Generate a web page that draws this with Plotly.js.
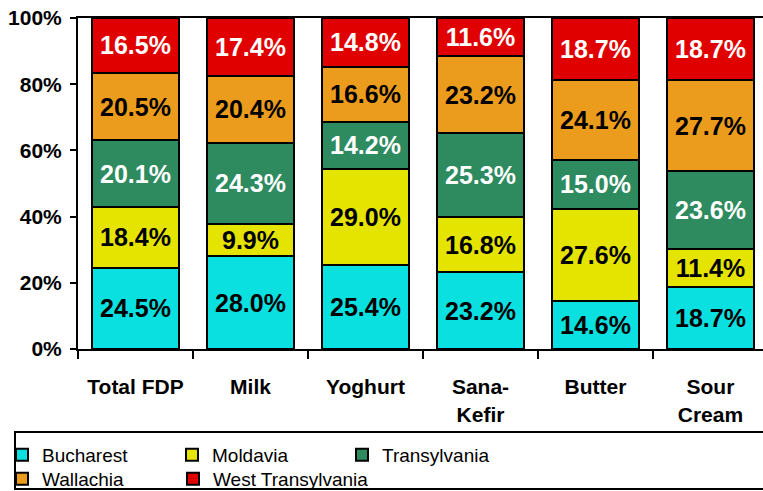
<!DOCTYPE html>
<html>
<head>
<meta charset="utf-8">
<script src="https://cdn.plot.ly/plotly-3.0.1.min.js"></script>
<style>html,body{margin:0;padding:0;background:#fff;} #chart{width:763px;height:491px;}</style>
</head>
<body>
<div id="chart"></div>
<script>
// ---- data ----
const categories = ["Total FDP", "Milk", "Yoghurt", "Sana-<br>Kefir", "Butter", "Sour<br>Cream"];
const seriesNames = ["Bucharest", "Moldavia", "Transylvania", "Wallachia", "West Transylvania"];
const bucharest       = [24.5, 28.0, 25.4, 23.2, 14.6, 18.7];
const moldavia        = [18.4,  9.9, 29.0, 16.8, 27.6, 11.4];
const transylvania    = [20.1, 24.3, 14.2, 25.3, 15.0, 23.6];
const wallachia       = [20.5, 20.4, 16.6, 23.2, 24.1, 27.7];
const westTransylvania= [16.5, 17.4, 14.8, 11.6, 18.7, 18.7];
const yTickVals = [0, 20, 40, 60, 80, 100];
const yTickText = ["0%", "20%", "40%", "60%", "80%", "100%"];

// ---- styles ----
const seriesValues = [bucharest, moldavia, transylvania, wallachia, westTransylvania];
const colors = ["#0BE0E0", "#E4E400", "#2E8A5F", "#EC9C1C", "#E00000"];
const textColors = ["#000", "#000", "#fff", "#000", "#fff"];
const legendIds = ["legend", "legend", "legend", "legend2", "legend3"];
const sans = "Liberation Sans, Arial, sans-serif";
const legFont = "Liberation Sans, Arial, sans-serif";

const traces = seriesNames.map((name, i) => ({
  type: "bar",
  name: name,
  x: categories,
  y: seriesValues[i],
  text: seriesValues[i].map(v => v.toFixed(1) + "%"),
  textposition: "inside",
  insidetextanchor: "middle",
  textangle: 0,
  constraintext: "none",
  textfont: {family: sans, size: 25, color: textColors[i], weight: "bold"},
  marker: {color: colors[i], line: {color: "#000", width: 2}},
  legend: legendIds[i],
  hoverinfo: "skip"
}));

function px2x(px) { return (px - 78) / 685; }
function px2y(py) { return (349 - py) / 331; }

function leg(xpx, ypx, ew) {
  return {
    orientation: "h", x: px2x(xpx), xanchor: "left",
    y: px2y(ypx), yanchor: "middle",
    entrywidth: ew, entrywidthmode: "pixels",
    font: {family: legFont, size: 19, color: "#000"},
    bgcolor: "rgba(0,0,0,0)", borderwidth: 0, traceorder: "normal",
    tracegroupgap: 0, itemclick: false, itemdoubleclick: false
  };
}

const layout = {
  width: 763, height: 491,
  margin: {l: 78, r: 0, t: 18, b: 142, autoexpand: false},
  paper_bgcolor: "#fff", plot_bgcolor: "#fff",
  barmode: "stack",
  barnorm: "percent",
  bargap: 0.25,
  font: {family: sans, color: "#000"},
  xaxis: {
    type: "category",
    range: [-0.5, 5.457],
    showline: true, linecolor: "#000", linewidth: 2, mirror: true,
    ticks: "outside", tickson: "boundaries", ticklen: 8, tickwidth: 2, tickcolor: "#000",
    tickfont: {family: sans, size: 21, color: "#000", weight: "bold"},
    ticklabelstandoff: 18,
    showgrid: false, zeroline: false, fixedrange: true
  },
  yaxis: {
    range: [0, 100],
    tickvals: yTickVals, ticktext: yTickText,
    showline: true, linecolor: "#000", linewidth: 2,
    ticks: "outside", ticklen: 6, tickwidth: 2, tickcolor: "#000",
    tickfont: {family: sans, size: 21, color: "#000", weight: "bold"},
    ticklabelstandoff: 4,
    showgrid: false, zeroline: false, fixedrange: true
  },
  showlegend: true,
  legend: leg(2, 455, 125),
  legend2: leg(2, 479, 125),
  legend3: leg(173, 479, 0),
  shapes: [{
    type: "rect", xref: "paper", yref: "paper", layer: "above",
    x0: px2x(15), x1: px2x(775),
    y0: px2y(432), y1: px2y(489),
    line: {color: "#000", width: 2}, fillcolor: "rgba(0,0,0,0)"
  }]
};

Plotly.newPlot("chart", traces, layout, {displayModeBar: false, staticPlot: true});
</script>
</body>
</html>
